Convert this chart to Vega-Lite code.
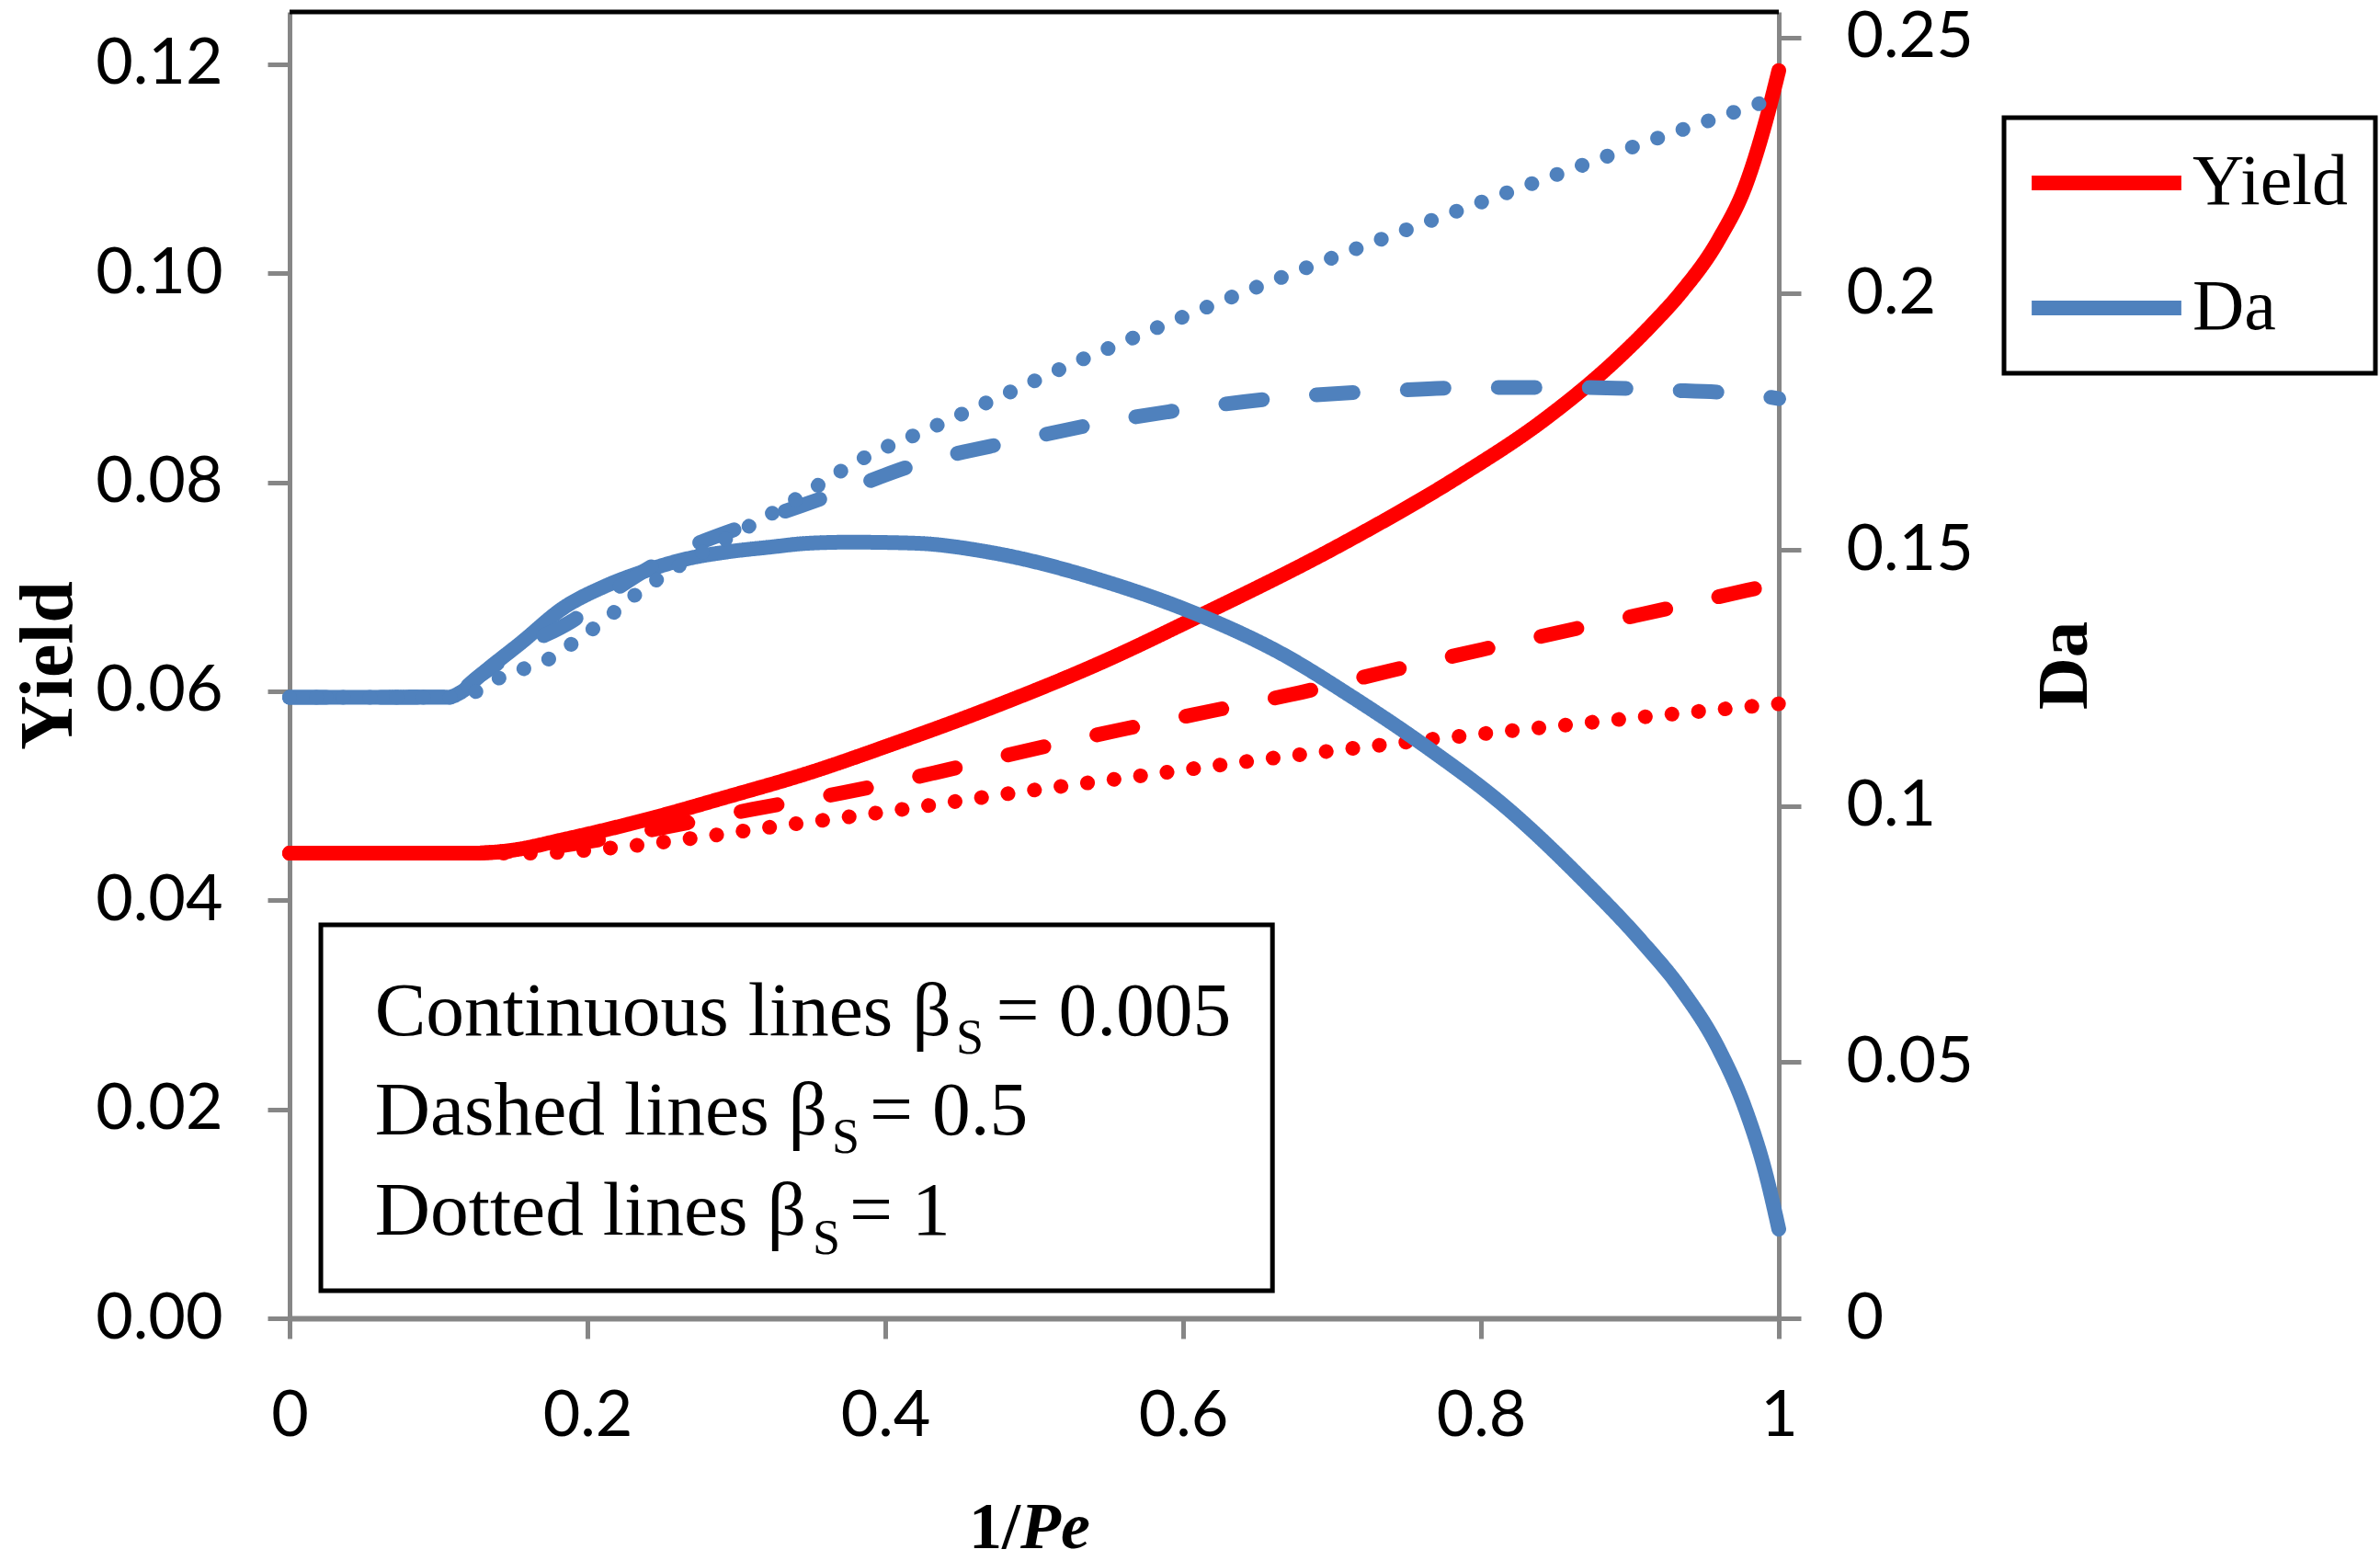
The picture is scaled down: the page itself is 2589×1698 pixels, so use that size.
{
  "$schema": "https://vega.github.io/schema/vega-lite/v6.json",
  "autosize": {"type": "none"},
  "padding": {"left": 315, "top": 13, "right": 654, "bottom": 264},
  "width": 1620,
  "height": 1421,
  "background": "white",
  "config": {
    "view": {"stroke": null},
    "axis": {
      "grid": false,
      "domainColor": "#868686",
      "domainWidth": 5,
      "tickColor": "#868686",
      "tickWidth": 5,
      "tickSize": 24,
      "labelFont": "Lato",
      "labelFontSize": 70,
      "labelColor": "black",
      "labelPadding": 49,
      "labelFlush": false,
      "labelOverlap": false,
      "titleFont": "Liberation Serif",
      "titleFontSize": 79,
      "titleFontWeight": "bold",
      "titleColor": "black"
    },
    "legend": {
      "strokeColor": "black",
      "strokeWidth": 5,
      "fillColor": "white",
      "padding": 30,
      "cornerRadius": 0,
      "symbolType": "stroke",
      "symbolSize": 26500,
      "symbolStrokeWidth": 16,
      "symbolOffset": -8,
      "labelFont": "Liberation Serif",
      "labelFontSize": 78,
      "labelColor": "black",
      "labelOffset": 4,
      "labelLimit": 500,
      "rowPadding": 54,
      "clipHeight": 82
    }
  },
  "data": {
    "values": [
      {"x": 0, "value": 0.0445, "measure": "Yield", "beta": "0.005"},
      {"x": 0.06, "value": 0.0445, "measure": "Yield", "beta": "0.005"},
      {"x": 0.12, "value": 0.0445, "measure": "Yield", "beta": "0.005"},
      {"x": 0.15, "value": 0.0448, "measure": "Yield", "beta": "0.005"},
      {"x": 0.1836, "value": 0.0458, "measure": "Yield", "beta": "0.005"},
      {"x": 0.239, "value": 0.0477, "measure": "Yield", "beta": "0.005"},
      {"x": 0.294, "value": 0.0499, "measure": "Yield", "beta": "0.005"},
      {"x": 0.349, "value": 0.0522, "measure": "Yield", "beta": "0.005"},
      {"x": 0.404, "value": 0.0549, "measure": "Yield", "beta": "0.005"},
      {"x": 0.4707, "value": 0.0584, "measure": "Yield", "beta": "0.005"},
      {"x": 0.549, "value": 0.063, "measure": "Yield", "beta": "0.005"},
      {"x": 0.6123, "value": 0.0673, "measure": "Yield", "beta": "0.005"},
      {"x": 0.7068, "value": 0.0741, "measure": "Yield", "beta": "0.005"},
      {"x": 0.7858, "value": 0.0806, "measure": "Yield", "beta": "0.005"},
      {"x": 0.8426, "value": 0.086, "measure": "Yield", "beta": "0.005"},
      {"x": 0.89, "value": 0.0916, "measure": "Yield", "beta": "0.005"},
      {"x": 0.9156, "value": 0.0952, "measure": "Yield", "beta": "0.005"},
      {"x": 0.934, "value": 0.0981, "measure": "Yield", "beta": "0.005"},
      {"x": 0.96, "value": 0.1033, "measure": "Yield", "beta": "0.005"},
      {"x": 0.978, "value": 0.1085, "measure": "Yield", "beta": "0.005"},
      {"x": 0.991, "value": 0.1144, "measure": "Yield", "beta": "0.005"},
      {"x": 1.0, "value": 0.1194, "measure": "Yield", "beta": "0.005"},

      {"x": 0, "value": 0.0445, "measure": "Yield", "beta": "0.5"},
      {"x": 0.12, "value": 0.0445, "measure": "Yield", "beta": "0.5"},
      {"x": 0.15, "value": 0.0447, "measure": "Yield", "beta": "0.5"},
      {"x": 0.2, "value": 0.0456, "measure": "Yield", "beta": "0.5"},
      {"x": 0.2525, "value": 0.047, "measure": "Yield", "beta": "0.5"},
      {"x": 0.3105, "value": 0.0487, "measure": "Yield", "beta": "0.5"},
      {"x": 0.372, "value": 0.0503, "measure": "Yield", "beta": "0.5"},
      {"x": 0.4333, "value": 0.0522, "measure": "Yield", "beta": "0.5"},
      {"x": 0.4944, "value": 0.0543, "measure": "Yield", "beta": "0.5"},
      {"x": 0.5574, "value": 0.0563, "measure": "Yield", "beta": "0.5"},
      {"x": 0.6185, "value": 0.0581, "measure": "Yield", "beta": "0.5"},
      {"x": 0.6794, "value": 0.0599, "measure": "Yield", "beta": "0.5"},
      {"x": 0.74, "value": 0.062, "measure": "Yield", "beta": "0.5"},
      {"x": 0.801, "value": 0.064, "measure": "Yield", "beta": "0.5"},
      {"x": 0.864, "value": 0.066, "measure": "Yield", "beta": "0.5"},
      {"x": 0.925, "value": 0.0679, "measure": "Yield", "beta": "0.5"},
      {"x": 0.9864, "value": 0.0699, "measure": "Yield", "beta": "0.5"},
      {"x": 1.0, "value": 0.0703, "measure": "Yield", "beta": "0.5"},

      {"x": 0, "value": 0.0445, "measure": "Yield", "beta": "1"},
      {"x": 0.13, "value": 0.0445, "measure": "Yield", "beta": "1"},
      {"x": 0.1617, "value": 0.0445, "measure": "Yield", "beta": "1"},
      {"x": 0.2154, "value": 0.045, "measure": "Yield", "beta": "1"},
      {"x": 0.269, "value": 0.0459, "measure": "Yield", "beta": "1"},
      {"x": 0.323, "value": 0.047, "measure": "Yield", "beta": "1"},
      {"x": 0.3766, "value": 0.048, "measure": "Yield", "beta": "1"},
      {"x": 0.4115, "value": 0.0487, "measure": "Yield", "beta": "1"},
      {"x": 0.4825, "value": 0.0502, "measure": "Yield", "beta": "1"},
      {"x": 0.571, "value": 0.0519, "measure": "Yield", "beta": "1"},
      {"x": 0.66, "value": 0.0536, "measure": "Yield", "beta": "1"},
      {"x": 0.748, "value": 0.0551, "measure": "Yield", "beta": "1"},
      {"x": 0.839, "value": 0.0565, "measure": "Yield", "beta": "1"},
      {"x": 0.927, "value": 0.0578, "measure": "Yield", "beta": "1"},
      {"x": 1.0, "value": 0.0588, "measure": "Yield", "beta": "1"},

      {"x": 0, "value": 0.1212, "measure": "Da", "beta": "0.005"},
      {"x": 0.106, "value": 0.1212, "measure": "Da", "beta": "0.005"},
      {"x": 0.115, "value": 0.1222, "measure": "Da", "beta": "0.005"},
      {"x": 0.128, "value": 0.1255, "measure": "Da", "beta": "0.005"},
      {"x": 0.156, "value": 0.132, "measure": "Da", "beta": "0.005"},
      {"x": 0.184, "value": 0.1387, "measure": "Da", "beta": "0.005"},
      {"x": 0.211, "value": 0.1428, "measure": "Da", "beta": "0.005"},
      {"x": 0.239, "value": 0.1459, "measure": "Da", "beta": "0.005"},
      {"x": 0.266, "value": 0.1482, "measure": "Da", "beta": "0.005"},
      {"x": 0.294, "value": 0.1496, "measure": "Da", "beta": "0.005"},
      {"x": 0.3215, "value": 0.1505, "measure": "Da", "beta": "0.005"},
      {"x": 0.349, "value": 0.1513, "measure": "Da", "beta": "0.005"},
      {"x": 0.3766, "value": 0.1515, "measure": "Da", "beta": "0.005"},
      {"x": 0.42, "value": 0.1513, "measure": "Da", "beta": "0.005"},
      {"x": 0.4707, "value": 0.1495, "measure": "Da", "beta": "0.005"},
      {"x": 0.549, "value": 0.1437, "measure": "Da", "beta": "0.005"},
      {"x": 0.6123, "value": 0.1371, "measure": "Da", "beta": "0.005"},
      {"x": 0.667, "value": 0.1296, "measure": "Da", "beta": "0.005"},
      {"x": 0.7124, "value": 0.1215, "measure": "Da", "beta": "0.005"},
      {"x": 0.7645, "value": 0.1113, "measure": "Da", "beta": "0.005"},
      {"x": 0.8166, "value": 0.0998, "measure": "Da", "beta": "0.005"},
      {"x": 0.8685, "value": 0.0856, "measure": "Da", "beta": "0.005"},
      {"x": 0.9078, "value": 0.0736, "measure": "Da", "beta": "0.005"},
      {"x": 0.934, "value": 0.0644, "measure": "Da", "beta": "0.005"},
      {"x": 0.96, "value": 0.0524, "measure": "Da", "beta": "0.005"},
      {"x": 0.978, "value": 0.0405, "measure": "Da", "beta": "0.005"},
      {"x": 0.991, "value": 0.0285, "measure": "Da", "beta": "0.005"},
      {"x": 1.0, "value": 0.0174, "measure": "Da", "beta": "0.005"},

      {"x": 0, "value": 0.1212, "measure": "Da", "beta": "0.5"},
      {"x": 0.106, "value": 0.1212, "measure": "Da", "beta": "0.5"},
      {"x": 0.128, "value": 0.1255, "measure": "Da", "beta": "0.5"},
      {"x": 0.156, "value": 0.131, "measure": "Da", "beta": "0.5"},
      {"x": 0.189, "value": 0.136, "measure": "Da", "beta": "0.5"},
      {"x": 0.22, "value": 0.1425, "measure": "Da", "beta": "0.5"},
      {"x": 0.255, "value": 0.1487, "measure": "Da", "beta": "0.5"},
      {"x": 0.3075, "value": 0.1549, "measure": "Da", "beta": "0.5"},
      {"x": 0.365, "value": 0.1608, "measure": "Da", "beta": "0.5"},
      {"x": 0.4253, "value": 0.1671, "measure": "Da", "beta": "0.5"},
      {"x": 0.4864, "value": 0.1712, "measure": "Da", "beta": "0.5"},
      {"x": 0.549, "value": 0.175, "measure": "Da", "beta": "0.5"},
      {"x": 0.6105, "value": 0.1778, "measure": "Da", "beta": "0.5"},
      {"x": 0.6735, "value": 0.1799, "measure": "Da", "beta": "0.5"},
      {"x": 0.7346, "value": 0.181, "measure": "Da", "beta": "0.5"},
      {"x": 0.7975, "value": 0.1817, "measure": "Da", "beta": "0.5"},
      {"x": 0.8605, "value": 0.1817, "measure": "Da", "beta": "0.5"},
      {"x": 0.9235, "value": 0.1812, "measure": "Da", "beta": "0.5"},
      {"x": 0.9846, "value": 0.1802, "measure": "Da", "beta": "0.5"},
      {"x": 1.0, "value": 0.1795, "measure": "Da", "beta": "0.5"},

      {"x": 0, "value": 0.1212, "measure": "Da", "beta": "1"},
      {"x": 0.11, "value": 0.1212, "measure": "Da", "beta": "1"},
      {"x": 0.13, "value": 0.123, "measure": "Da", "beta": "1"},
      {"x": 0.145, "value": 0.1257, "measure": "Da", "beta": "1"},
      {"x": 0.1617, "value": 0.1272, "measure": "Da", "beta": "1"},
      {"x": 0.178, "value": 0.1293, "measure": "Da", "beta": "1"},
      {"x": 0.193, "value": 0.1324, "measure": "Da", "beta": "1"},
      {"x": 0.2085, "value": 0.1356, "measure": "Da", "beta": "1"},
      {"x": 0.222, "value": 0.1388, "measure": "Da", "beta": "1"},
      {"x": 0.237, "value": 0.1423, "measure": "Da", "beta": "1"},
      {"x": 0.2517, "value": 0.1451, "measure": "Da", "beta": "1"},
      {"x": 0.3315, "value": 0.1584, "measure": "Da", "beta": "1"},
      {"x": 0.392, "value": 0.1689, "measure": "Da", "beta": "1"},
      {"x": 0.427, "value": 0.1733, "measure": "Da", "beta": "1"},
      {"x": 0.461, "value": 0.1778, "measure": "Da", "beta": "1"},
      {"x": 0.4944, "value": 0.1822, "measure": "Da", "beta": "1"},
      {"x": 0.526, "value": 0.1864, "measure": "Da", "beta": "1"},
      {"x": 0.5593, "value": 0.1905, "measure": "Da", "beta": "1"},
      {"x": 0.5926, "value": 0.1946, "measure": "Da", "beta": "1"},
      {"x": 0.66, "value": 0.2025, "measure": "Da", "beta": "1"},
      {"x": 0.711, "value": 0.2082, "measure": "Da", "beta": "1"},
      {"x": 0.762, "value": 0.2138, "measure": "Da", "beta": "1"},
      {"x": 0.8127, "value": 0.2192, "measure": "Da", "beta": "1"},
      {"x": 0.8636, "value": 0.2246, "measure": "Da", "beta": "1"},
      {"x": 0.915, "value": 0.23, "measure": "Da", "beta": "1"},
      {"x": 0.9665, "value": 0.2351, "measure": "Da", "beta": "1"},
      {"x": 1.0, "value": 0.2384, "measure": "Da", "beta": "1"}
    ]
  },
  "layer": [
    {
      "layer": [
        {
          "transform": [{"filter": "datum.measure === 'Yield'"}],
          "mark": {"type": "line", "strokeWidth": 16, "strokeCap": "round", "strokeJoin": "round", "interpolate": "monotone"},
          "encoding": {
            "x": {
              "field": "x", "type": "quantitative",
              "scale": {"domain": [0, 1]},
              "axis": {"values": [0, 0.2, 0.4, 0.6, 0.8, 1], "format": "~g", "title": null, "domainWidth": 6, "labelPadding": 50, "tickSize": 22}
            },
            "y": {
              "field": "value", "type": "quantitative",
              "scale": {"domain": [0, 0.125]},
              "axis": {"values": [0, 0.02, 0.04, 0.06, 0.08, 0.1, 0.12], "format": ".2f", "title": "Yield", "titleFontSize": 82, "titleAngle": 270, "titleBaseline": "alphabetic", "titlePadding": 38}
            },
            "color": {
              "field": "measure", "type": "nominal",
              "scale": {"domain": ["Yield", "Da"], "range": ["#FF0000", "#4F81BD"]},
              "legend": {"title": null, "orient": "none", "legendX": 1865, "legendY": 115}
            },
            "strokeDash": {
              "field": "beta", "type": "nominal",
              "scale": {"domain": ["0.005", "0.5", "1"], "range": [[1, 0], [40, 59], [0.1, 29]]},
              "legend": null
            }
          }
        },
        {
          "data": {"values": [{"x": 0, "x2": 1, "value": 0.125}]},
          "mark": {"type": "rule", "color": "black", "strokeWidth": 5},
          "encoding": {
            "x": {"field": "x", "type": "quantitative", "scale": {"domain": [0, 1]}},
            "x2": {"field": "x2"},
            "y": {"field": "value", "type": "quantitative", "scale": {"domain": [0, 0.125]}}
          }
        },
        {
          "data": {"values": [{"x": 0.021, "x2": 0.66, "value": 0.00264, "value2": 0.03766}]},
          "mark": {"type": "rect", "fill": "white", "stroke": "black", "strokeWidth": 5},
          "encoding": {
            "x": {"field": "x", "type": "quantitative", "scale": {"domain": [0, 1]}},
            "x2": {"field": "x2"},
            "y": {"field": "value", "type": "quantitative", "scale": {"domain": [0, 0.125]}},
            "y2": {"field": "value2"}
          }
        },
        {
          "data": {"values": [
            {"x": 0.0572, "value": 0.0271, "t": "Continuous lines β"},
            {"x": 0.0572, "value": 0.0176, "t": "Dashed lines β"},
            {"x": 0.0572, "value": 0.00803, "t": "Dotted lines β"},
            {"x": 0.4744, "value": 0.0271, "t": "= 0.005"},
            {"x": 0.3895, "value": 0.0176, "t": "= 0.5"},
            {"x": 0.3759, "value": 0.00803, "t": "= 1"}
          ]},
          "mark": {"type": "text", "align": "left", "baseline": "alphabetic", "font": "Liberation Serif", "fontSize": 83.5, "color": "black"},
          "encoding": {
            "x": {"field": "x", "type": "quantitative", "scale": {"domain": [0, 1]}},
            "y": {"field": "value", "type": "quantitative", "scale": {"domain": [0, 0.125]}},
            "text": {"field": "t"}
          }
        },
        {
          "data": {"values": [
            {"x": 0.4475, "value": 0.0253, "t": "S"},
            {"x": 0.3642, "value": 0.0158, "t": "S"},
            {"x": 0.3512, "value": 0.0062, "t": "S"}
          ]},
          "mark": {"type": "text", "align": "left", "baseline": "alphabetic", "font": "Liberation Serif", "fontSize": 54, "color": "black"},
          "encoding": {
            "x": {"field": "x", "type": "quantitative", "scale": {"domain": [0, 1]}},
            "y": {"field": "value", "type": "quantitative", "scale": {"domain": [0, 0.125]}},
            "text": {"field": "t"}
          }
        },
        {
          "data": {"values": [{"x": 0.4907, "value": -0.0220, "t": "1/"}]},
          "mark": {"type": "text", "align": "right", "baseline": "alphabetic", "font": "Liberation Serif", "fontSize": 72, "fontWeight": "bold", "color": "black"},
          "encoding": {
            "x": {"field": "x", "type": "quantitative", "scale": {"domain": [0, 1]}},
            "y": {"field": "value", "type": "quantitative", "scale": {"domain": [0, 0.125]}},
            "text": {"field": "t"}
          }
        },
        {
          "data": {"values": [{"x": 0.4907, "value": -0.0220, "t": "Pe"}]},
          "mark": {"type": "text", "align": "left", "baseline": "alphabetic", "font": "Liberation Serif", "fontSize": 72, "fontWeight": "bold", "fontStyle": "italic", "color": "black"},
          "encoding": {
            "x": {"field": "x", "type": "quantitative", "scale": {"domain": [0, 1]}},
            "y": {"field": "value", "type": "quantitative", "scale": {"domain": [0, 0.125]}},
            "text": {"field": "t"}
          }
        }
      ]
    },
    {
      "transform": [{"filter": "datum.measure === 'Da'"}],
      "mark": {"type": "line", "strokeWidth": 16, "strokeCap": "round", "strokeJoin": "round", "interpolate": "monotone"},
      "encoding": {
        "x": {
          "field": "x", "type": "quantitative",
          "scale": {"domain": [0, 1]},
          "axis": {"values": [0, 0.2, 0.4, 0.6, 0.8, 1], "format": "~g", "title": null, "domainWidth": 6, "labelPadding": 50, "tickSize": 22}
        },
        "y": {
          "field": "value", "type": "quantitative",
          "scale": {"domain": [0, 0.255]},
          "axis": {"orient": "right", "values": [0, 0.05, 0.1, 0.15, 0.2, 0.25], "format": "~g", "title": "Da", "titleAngle": 270, "titleBaseline": "alphabetic", "titlePadding": 134}
        },
        "color": {
          "field": "measure", "type": "nominal",
          "scale": {"domain": ["Yield", "Da"], "range": ["#FF0000", "#4F81BD"]},
          "legend": {"title": null, "orient": "none", "legendX": 1865, "legendY": 115}
        },
        "strokeDash": {
          "field": "beta", "type": "nominal",
          "scale": {"domain": ["0.005", "0.5", "1"], "range": [[1, 0], [40, 59], [0.1, 29]]},
          "legend": null
        }
      }
    }
  ],
  "resolve": {"scale": {"y": "independent"}}
}
